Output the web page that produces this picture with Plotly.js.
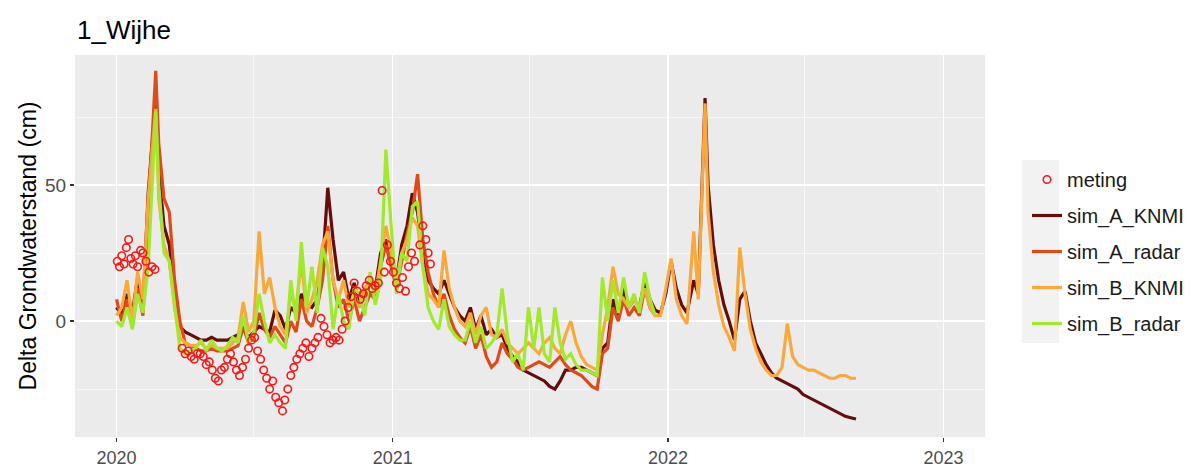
<!DOCTYPE html>
<html><head><meta charset="utf-8">
<script src="https://cdn.plot.ly/plotly-3.0.1.min.js"></script>
<style>body{margin:0;background:#fff}#chart{width:1200px;height:468px}</style>
</head><body><div id="chart"></div>
<script>
const simDates = [
'2020-01-01','2020-01-08','2020-01-15','2020-01-22','2020-01-29','2020-02-05','2020-02-12','2020-02-22','2020-02-26','2020-03-04',
'2020-03-11','2020-03-18','2020-03-25','2020-04-01','2020-04-08','2020-04-15','2020-04-22','2020-04-29','2020-05-06','2020-05-13',
'2020-05-20','2020-05-27','2020-06-03','2020-06-10','2020-06-17','2020-06-24','2020-07-01','2020-07-08','2020-07-15','2020-07-22',
'2020-07-29','2020-08-05','2020-08-12','2020-08-19','2020-08-26','2020-09-02','2020-09-09','2020-09-16','2020-09-23','2020-09-30',
'2020-10-07','2020-10-14','2020-10-21','2020-10-28','2020-11-04','2020-11-11','2020-11-18','2020-11-25','2020-12-02','2020-12-09',
'2020-12-16','2020-12-23','2020-12-30','2021-01-06','2021-01-13','2021-01-20','2021-01-27','2021-02-03','2021-02-10','2021-02-17',
'2021-02-24','2021-03-03','2021-03-10','2021-03-17','2021-03-24','2021-03-31','2021-04-07','2021-04-14','2021-04-21','2021-04-28',
'2021-05-05','2021-05-12','2021-05-19','2021-05-26','2021-06-02','2021-06-09','2021-06-16','2021-06-23','2021-06-30','2021-07-07',
'2021-07-14','2021-07-21','2021-07-28','2021-08-04','2021-08-11','2021-08-18','2021-08-25','2021-09-01','2021-09-08','2021-09-15',
'2021-09-22','2021-09-29','2021-10-06','2021-10-13','2021-10-20','2021-10-27','2021-11-03','2021-11-10','2021-11-17','2021-11-24',
'2021-12-01','2021-12-08','2021-12-15','2021-12-22','2021-12-29','2022-01-05','2022-01-12','2022-01-19','2022-01-26','2022-02-04',
'2022-02-10','2022-02-19','2022-02-23','2022-03-02','2022-03-09','2022-03-16','2022-03-23','2022-03-30','2022-04-06','2022-04-13',
'2022-04-20','2022-04-27','2022-05-04','2022-05-11','2022-05-18','2022-05-25','2022-06-01','2022-06-08','2022-06-15','2022-06-22',
'2022-06-29','2022-07-06','2022-07-13','2022-07-20','2022-07-27','2022-08-03','2022-08-10','2022-08-17','2022-08-24','2022-08-31',
'2022-09-07'];

const simAKNMI = [
5,2,10,3,16,5,47,82,55,35,
28,10,-2,-4,-5,-6,-7,-7,-6,-7,
-7,-7,-6,-5,-3,-6,-4,-2,-3,-4,
4,2,-3,5,3,10,6,5,8,20,
49,30,15,18,8,14,6,10,14,12,
25,30,22,15,28,35,47,40,25,15,
12,10,15,10,5,2,0,5,-3,2,
-5,-3,-6,-5,-10,-13,-15,-18,-19,-20,
-21,-22,-24,-25,-22,-18,-18,-17,-17,-18,
-19,-20,-10,-8,8,2,12,5,8,5,
15,8,4,3,10,22,12,6,3,15,
10,82,50,28,15,6,0,-7,8,11,
0,-8,-12,-16,-19,-21,-22,-23,-24,-25,
-27,-28,-29,-30,-31,-32,-33,-34,-35,-35.5,
-36];

const simAradar = [
8,0,8,-2,12,2,40,92,65,45,
40,15,0,-8,-9,-10,-11,-11,-10,-11,
-11,-11,-10,-9,-2,-8,-6,3,-3,-6,
-2,-5,-8,0,-4,8,0,-2,5,15,
35,15,5,8,0,8,0,5,10,8,
20,28,20,12,22,32,40,54,30,18,
10,5,10,2,-3,-6,-8,-2,-10,-5,
-13,-17,-15,-8,-12,-14,-17,-18,-17,-16,
-15,-16,-17,-15,-13,-16,-18,-19,-20,-22,
-24,-25,-12,-10,5,0,8,2,5,2,
12,5,2];

const simBKNMI = [
2,5,15,0,18,8,45,78,45,28,
22,5,-6,-8,-9,-9,-8,-10,-9,-10,
-10,-10,-8,-6,7,-4,0,33,10,16,
5,-2,-5,10,5,22,3,8,15,28,
33,15,8,15,5,10,5,12,15,10,
22,35,25,15,25,30,38,35,20,10,
8,5,26,12,5,0,-2,3,-5,2,
5,-5,-6,-3,-8,-10,-12,-10,-8,-10,
-12,-8,-6,-10,-12,-5,0,-8,-13,-16,
-17,-18,-5,5,20,10,8,5,8,5,
12,5,2,2,12,23,8,2,-1,33,
8,80,40,18,6,-2,-6,-11,27,10,
-3,-10,-15,-18,-20,-20,-17,-1,-13,-16,
-17,-18,-18,-19,-20,-21,-21,-20,-20,-21,
-21];

const simBradar = [
0,-2,5,-3,10,3,20,77,50,25,
22,5,-10,-12,-11,-10,-7,-11,-7,-10,
-11,-9,-6,-8,2,-8,-4,10,0,-8,
-5,-8,-10,15,0,29,5,20,3,27,
20,-3,10,0,-3,12,10,2,18,6,
15,63,35,10,25,22,42,44,20,5,
0,-3,8,-2,-5,-7,-7,0,-8,-2,
-10,-8,-5,12,-5,-15,-12,-18,5,-10,
5,-12,-15,5,-8,-14,-12,-16,-18,-18,
-19,-20,16,0,15,3,16,5,10,3,
18,8,2];

const metingDates = [
'2020-01-02','2020-01-05','2020-01-08','2020-01-11','2020-01-14','2020-01-17','2020-01-20','2020-01-23','2020-01-26','2020-01-29',
'2020-02-02','2020-02-05','2020-02-09','2020-02-13','2020-02-17','2020-02-21',
'2020-03-28','2020-04-01','2020-04-05','2020-04-09','2020-04-13','2020-04-17','2020-04-21','2020-04-25','2020-04-29','2020-05-03',
'2020-05-07','2020-05-11','2020-05-15','2020-05-19','2020-05-23','2020-05-27','2020-05-31','2020-06-04','2020-06-08','2020-06-12',
'2020-06-16','2020-06-20','2020-06-24','2020-06-28','2020-07-02','2020-07-06','2020-07-10','2020-07-14','2020-07-18','2020-07-22',
'2020-07-26','2020-07-30','2020-08-03','2020-08-08','2020-08-11','2020-08-15','2020-08-19','2020-08-23','2020-08-27','2020-08-31',
'2020-09-04','2020-09-08','2020-09-12','2020-09-16','2020-09-20','2020-09-24','2020-09-28','2020-10-02','2020-10-06','2020-10-10',
'2020-10-14','2020-10-18','2020-10-22','2020-10-26','2020-10-30','2020-11-03','2020-11-07','2020-11-11','2020-11-15','2020-11-19',
'2020-11-23','2020-11-27','2020-12-01','2020-12-05','2020-12-09','2020-12-13','2020-12-18','2020-12-21','2020-12-25','2020-12-29',
'2021-01-02','2021-01-06','2021-01-10','2021-01-14','2021-01-18','2021-01-22','2021-01-26','2021-01-30','2021-02-06','2021-02-10',
'2021-02-14','2021-02-17','2021-02-20'];
const metingValues = [
22,20,24,21,27,30,23,21,24,20,
26,25,22,18,20,19,
-10,-12,-11,-13,-14,-12,-12,-13,-16,-15,
-18,-21,-22,-18,-17,-14,-12,-15,-18,-20,
-17,-14,-10,-7,-6,-11,-14,-18,-21,-25,
-22,-28,-30,-33,-29,-25,-20,-17,-14,-12,
-10,-8,-13,-10,-8,-6,1,-2,-5,-8,
-7,-6,-7,-3,0,5,9,14,11,8,
10,13,15,12,13,14,48,18,28,22,
18,14,12,16,11,20,25,22,28,35,
30,25,21];

const seriesNames = ['meting','sim_A_KNMI','sim_A_radar','sim_B_KNMI','sim_B_radar'];
const seriesColors = ['#f41a1a','#650d0d','#dd4b1a','#f9a93b','#a2e82f'];

const simSeries = [simAKNMI, simAradar, simBKNMI, simBradar];
const traces = simSeries.map((vals, i) => ({
  type: 'scatter', mode: 'lines', name: seriesNames[i+1],
  x: simDates, y: vals,
  line: {color: seriesColors[i+1], width: 3.2},
  legendrank: i + 2, legendgroup: 'g' + (i + 2)
}));
traces.push({
  type: 'scatter', mode: 'markers', name: seriesNames[0],
  x: metingDates, y: metingValues,
  marker: {symbol: 'circle-open', size: 7.5, color: seriesColors[0], line: {width: 1.6, color: seriesColors[0]}},
  legendrank: 1, legendgroup: 'g1'
});

const P = (px) => (px - 75) / 911;
const Q = (py) => (437 - py) / 382;

const layout = {
  width: 1200, height: 468,
  margin: {l: 75, r: 214, t: 55, b: 31},
  paper_bgcolor: '#ffffff', plot_bgcolor: '#ebebeb',
  font: {family: 'Liberation Sans, Arial, sans-serif', color: '#4d4d4d'},
  title: {text: '1_Wijhe', x: 77/1200, xanchor: 'left', y: 1 - 30/468, yanchor: 'middle',
          font: {size: 26, color: '#000000'}},
  xaxis: {
    type: 'date', range: ['2019-11-07', '2023-02-25'],
    tick0: '2020-01-01', dtick: 'M12', tickformat: '%Y',
    ticks: 'outside', ticklen: 4, tickwidth: 1.2, tickcolor: '#333333',
    tickfont: {size: 18, color: '#4d4d4d'},
    showgrid: true, gridcolor: '#ffffff', gridwidth: 1.3,
    minor: {dtick: 'M6', tick0: '2020-01-01', showgrid: true, gridcolor: '#ffffff', gridwidth: 0.6},
    zeroline: false, showline: false, fixedrange: true
  },
  yaxis: {
    range: [-42.6, 97.8], tick0: 0, dtick: 50,
    ticks: 'outside', ticklen: 4, tickwidth: 1.2, tickcolor: '#333333',
    tickfont: {size: 19, color: '#4d4d4d'},
    showgrid: true, gridcolor: '#ffffff', gridwidth: 1.3,
    minor: {dtick: 25, showgrid: true, gridcolor: '#ffffff', gridwidth: 0.6},
    zeroline: false, showline: false, fixedrange: true,
    title: {text: 'Delta Grondwaterstand (cm)', font: {size: 23, color: '#000000'}, standoff: 2}
  },
  showlegend: true,
  legend: {x: P(1027), y: Q(160), xanchor: 'left', yanchor: 'top',
           font: {size: 20, color: '#1a1a1a'}, bgcolor: 'rgba(0,0,0,0)',
           tracegroupgap: 7, itemwidth: 30},
  shapes: [{type: 'rect', xref: 'paper', yref: 'paper', x0: P(1023), x1: P(1060), y0: Q(343), y1: Q(160),
            fillcolor: '#f2f2f2', line: {width: 0}, layer: 'below'}]
};

Plotly.newPlot('chart', traces, layout, {displayModeBar: false, staticPlot: true});
</script>
</body></html>
